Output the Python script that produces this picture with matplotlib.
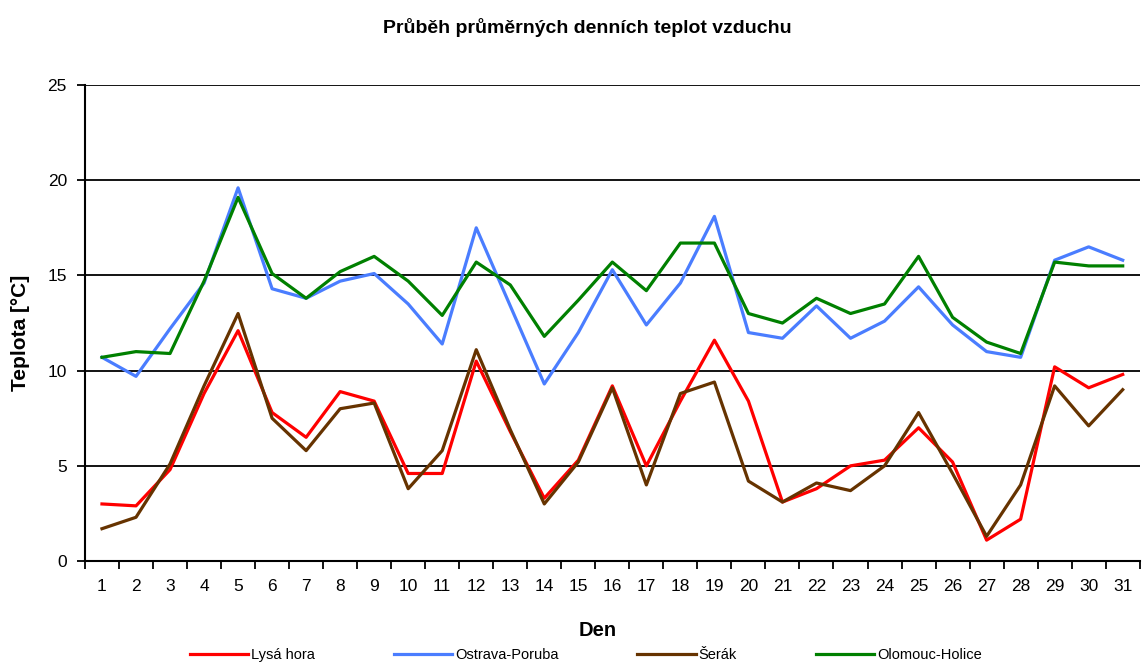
import numpy as np
import matplotlib
matplotlib.use("Agg")
import matplotlib.pyplot as plt
from matplotlib.ticker import MultipleLocator, FixedLocator

plt.rcParams['font.family'] = ['Liberation Sans', 'DejaVu Sans']

# dny v mesici
dny = list(range(1, 32))

# prumerne denni teploty [°C]
lysa_hora = [3.0, 2.9, 4.8, 8.8, 12.1, 7.8, 6.5, 8.9, 8.4, 4.6, 4.6, 10.5, 6.8, 3.3, 5.3,
             9.2, 5.0, 8.4, 11.6, 8.4, 3.1, 3.8, 5.0, 5.3, 7.0, 5.2, 1.1, 2.2, 10.2, 9.1, 9.8]
ostrava = [10.7, 9.7, 12.2, 14.6, 19.6, 14.3, 13.8, 14.7, 15.1, 13.5, 11.4, 17.5, 13.4, 9.3, 12.0,
           15.3, 12.4, 14.6, 18.1, 12.0, 11.7, 13.4, 11.7, 12.6, 14.4, 12.4, 11.0, 10.7, 15.8, 16.5, 15.8]
serak = [1.7, 2.3, 5.1, 9.2, 13.0, 7.5, 5.8, 8.0, 8.3, 3.8, 5.8, 11.1, 6.9, 3.0, 5.2,
         9.1, 4.0, 8.8, 9.4, 4.2, 3.1, 4.1, 3.7, 5.0, 7.8, 4.6, 1.3, 4.0, 9.2, 7.1, 9.0]
olomouc = [10.7, 11.0, 10.9, 14.7, 19.1, 15.1, 13.8, 15.2, 16.0, 14.7, 12.9, 15.7, 14.5, 11.8, 13.7,
           15.7, 14.2, 16.7, 16.7, 13.0, 12.5, 13.8, 13.0, 13.5, 16.0, 12.8, 11.5, 10.9, 15.7, 15.5, 15.5]

fig = plt.figure(figsize=(11.42, 6.64), dpi=100)
ax = fig.add_axes([0.0744, 0.155, 0.9236, 0.717])

lw = 2.3
ax.plot(dny, lysa_hora, color="#FF0000", linewidth=lw, label="Lysá hora")
ax.plot(dny, ostrava, color="#4A7DFF", linewidth=lw, label="Ostrava-Poruba")
ax.plot(dny, serak, color="#663300", linewidth=lw, label="Šerák")
ax.plot(dny, olomouc, color="#008000", linewidth=lw, label="Olomouc-Holice")

ax.set_xlim(0.5, 31.5)
ax.set_ylim(0, 25)
ax.yaxis.set_major_locator(MultipleLocator(5))
ax.set_xticks(dny)
ax.xaxis.set_minor_locator(FixedLocator(np.arange(0.5, 32, 1)))
ax.tick_params(axis='x', which='major', length=0, labelsize=12.5, pad=13)
ax.tick_params(axis='x', which='minor', length=6, width=1.3, direction='out')
ax.tick_params(axis='y', length=6, width=1.3, labelsize=12.5, pad=7)

# vodorovna mrizka
ax.grid(axis='y', color='black', linewidth=1.3)
ax.get_ygridlines()[-1].set_color('#999999')
ax.set_axisbelow(True)
for s in ['top', 'right']:
    ax.spines[s].set_visible(False)
ax.spines['left'].set_linewidth(1.5)
ax.spines['bottom'].set_linewidth(1.5)

fig.text(0.514, 0.958, "Průběh průměrných denních teplot vzduchu", fontsize=14,
         fontweight='bold', ha='center', va='center')
ax.set_ylabel("Teplota [°C]", fontsize=15, fontweight='bold', labelpad=9)
ax.set_xlabel("Den", fontsize=14.5, fontweight='bold', labelpad=14)
ax.xaxis.set_label_coords(0.486, -0.125)
ax.yaxis.set_label_coords(-0.052, 0.479)

fig.legend(loc='center', bbox_to_anchor=(0.513, 0.0136), ncol=4, frameon=False,
           fontsize=10.5, handlelength=4.0, handletextpad=0.2, columnspacing=5.4)

plt.savefig("out.png", dpi=100)
